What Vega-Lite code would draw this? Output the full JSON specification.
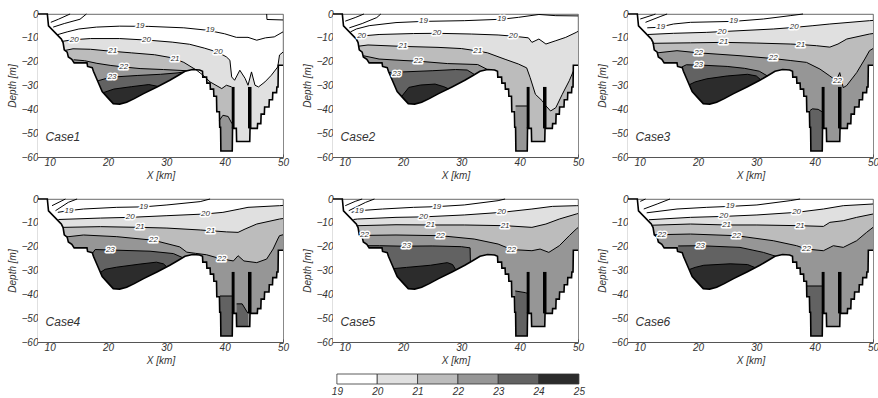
{
"$schema":"https://vega.github.io/schema/vega-lite/v6.json",
"background":"white",
"padding":{"left":6,"top":7,"right":0,"bottom":0},
"config":{"font":"Liberation Sans","view":{"stroke":"#444","strokeWidth":0.8},
"header":{"labels":false,"title":null,"labelPadding":0,"titlePadding":0},
"headerFacet":{"labels":false,"labelPadding":0,"titlePadding":0},
"axis":{"labelFontStyle":"italic","titleFontStyle":"italic","titleFontWeight":"normal","labelFontSize":10,"titleFontSize":10,"labelColor":"#333","titleColor":"#333","domainColor":"#555","tickColor":"#555","tickSize":-3,"labelPadding":3,"grid":false,"labelOverlap":false}},
"datasets":{"d":[
{"c":["Case1","Case2","Case3","Case4","Case5","Case6"],"k":"s","x":8,"y":0},
{"c":["Case1","Case2","Case3","Case4","Case5","Case6"],"k":"s","x":9.6,"y":0},
{"c":["Case1","Case2","Case3","Case4","Case5","Case6"],"k":"s","x":9.8,"y":-5},
{"c":["Case1","Case2","Case3","Case4","Case5","Case6"],"k":"s","x":11.8,"y":-10},
{"c":["Case1","Case2","Case3","Case4","Case5","Case6"],"k":"s","x":12.0,"y":-10.5},
{"c":["Case1","Case2","Case3","Case4","Case5","Case6"],"k":"s","x":12.3,"y":-12},
{"c":["Case1","Case2","Case3","Case4","Case5","Case6"],"k":"s","x":12.5,"y":-15},
{"c":["Case1","Case2","Case3","Case4","Case5","Case6"],"k":"s","x":13.0,"y":-16},
{"c":["Case1","Case2","Case3","Case4","Case5","Case6"],"k":"s","x":13.2,"y":-18},
{"c":["Case1","Case2","Case3","Case4","Case5","Case6"],"k":"s","x":13.8,"y":-19},
{"c":["Case1","Case2","Case3","Case4","Case5","Case6"],"k":"s","x":14.2,"y":-20.5},
{"c":["Case1","Case2","Case3","Case4","Case5","Case6"],"k":"s","x":16.4,"y":-20.5},
{"c":["Case1","Case2","Case3","Case4","Case5","Case6"],"k":"s","x":16.5,"y":-22},
{"c":["Case1","Case2","Case3","Case4","Case5","Case6"],"k":"s","x":17.3,"y":-22.5},
{"c":["Case1","Case2","Case3","Case4","Case5","Case6"],"k":"s","x":17.5,"y":-24},
{"c":["Case1","Case2","Case3","Case4","Case5","Case6"],"k":"s","x":18.2,"y":-28},
{"c":["Case1","Case2","Case3","Case4","Case5","Case6"],"k":"s","x":19.0,"y":-32.5},
{"c":["Case1","Case2","Case3","Case4","Case5","Case6"],"k":"s","x":20.1,"y":-35.5},
{"c":["Case1","Case2","Case3","Case4","Case5","Case6"],"k":"s","x":20.9,"y":-37.6},
{"c":["Case1","Case2","Case3","Case4","Case5","Case6"],"k":"s","x":22.0,"y":-37.8},
{"c":["Case1","Case2","Case3","Case4","Case5","Case6"],"k":"s","x":23.2,"y":-37},
{"c":["Case1","Case2","Case3","Case4","Case5","Case6"],"k":"s","x":24.5,"y":-35.5},
{"c":["Case1","Case2","Case3","Case4","Case5","Case6"],"k":"s","x":26.1,"y":-33.4},
{"c":["Case1","Case2","Case3","Case4","Case5","Case6"],"k":"s","x":28.4,"y":-30.6},
{"c":["Case1","Case2","Case3","Case4","Case5","Case6"],"k":"s","x":30.6,"y":-27.8},
{"c":["Case1","Case2","Case3","Case4","Case5","Case6"],"k":"s","x":32.0,"y":-25.8},
{"c":["Case1","Case2","Case3","Case4","Case5","Case6"],"k":"s","x":33.2,"y":-24},
{"c":["Case1","Case2","Case3","Case4","Case5","Case6"],"k":"s","x":34.5,"y":-23.3},
{"c":["Case1","Case2","Case3","Case4","Case5","Case6"],"k":"s","x":35.7,"y":-23.5},
{"c":["Case1","Case2","Case3","Case4","Case5","Case6"],"k":"s","x":36.2,"y":-24},
{"c":["Case1","Case2","Case3","Case4","Case5","Case6"],"k":"s","x":36.25,"y":-26.5},
{"c":["Case1","Case2","Case3","Case4","Case5","Case6"],"k":"s","x":36.9,"y":-26.5},
{"c":["Case1","Case2","Case3","Case4","Case5","Case6"],"k":"s","x":36.95,"y":-29},
{"c":["Case1","Case2","Case3","Case4","Case5","Case6"],"k":"s","x":37.5,"y":-29},
{"c":["Case1","Case2","Case3","Case4","Case5","Case6"],"k":"s","x":37.55,"y":-31.5},
{"c":["Case1","Case2","Case3","Case4","Case5","Case6"],"k":"s","x":38.1,"y":-31.5},
{"c":["Case1","Case2","Case3","Case4","Case5","Case6"],"k":"s","x":38.15,"y":-34.5},
{"c":["Case1","Case2","Case3","Case4","Case5","Case6"],"k":"s","x":38.6,"y":-34.5},
{"c":["Case1","Case2","Case3","Case4","Case5","Case6"],"k":"s","x":38.65,"y":-41},
{"c":["Case1","Case2","Case3","Case4","Case5","Case6"],"k":"s","x":39.1,"y":-41},
{"c":["Case1","Case2","Case3","Case4","Case5","Case6"],"k":"s","x":39.15,"y":-47.5},
{"c":["Case1","Case2","Case3","Case4","Case5","Case6"],"k":"s","x":39.3,"y":-47.5},
{"c":["Case1","Case2","Case3","Case4","Case5","Case6"],"k":"s","x":39.35,"y":-57.5},
{"c":["Case1","Case2","Case3","Case4","Case5","Case6"],"k":"s","x":41.3,"y":-57.5},
{"c":["Case1","Case2","Case3","Case4","Case5","Case6"],"k":"s","x":41.35,"y":-48},
{"c":["Case1","Case2","Case3","Case4","Case5","Case6"],"k":"s","x":42.0,"y":-48},
{"c":["Case1","Case2","Case3","Case4","Case5","Case6"],"k":"s","x":42.05,"y":-53.5},
{"c":["Case1","Case2","Case3","Case4","Case5","Case6"],"k":"s","x":44.3,"y":-53.5},
{"c":["Case1","Case2","Case3","Case4","Case5","Case6"],"k":"s","x":44.35,"y":-48},
{"c":["Case1","Case2","Case3","Case4","Case5","Case6"],"k":"s","x":45.6,"y":-48},
{"c":["Case1","Case2","Case3","Case4","Case5","Case6"],"k":"s","x":45.65,"y":-46},
{"c":["Case1","Case2","Case3","Case4","Case5","Case6"],"k":"s","x":46.2,"y":-46},
{"c":["Case1","Case2","Case3","Case4","Case5","Case6"],"k":"s","x":46.25,"y":-42},
{"c":["Case1","Case2","Case3","Case4","Case5","Case6"],"k":"s","x":46.8,"y":-42},
{"c":["Case1","Case2","Case3","Case4","Case5","Case6"],"k":"s","x":46.85,"y":-39},
{"c":["Case1","Case2","Case3","Case4","Case5","Case6"],"k":"s","x":47.6,"y":-39},
{"c":["Case1","Case2","Case3","Case4","Case5","Case6"],"k":"s","x":47.65,"y":-36},
{"c":["Case1","Case2","Case3","Case4","Case5","Case6"],"k":"s","x":48.2,"y":-36},
{"c":["Case1","Case2","Case3","Case4","Case5","Case6"],"k":"s","x":48.25,"y":-33},
{"c":["Case1","Case2","Case3","Case4","Case5","Case6"],"k":"s","x":48.9,"y":-33},
{"c":["Case1","Case2","Case3","Case4","Case5","Case6"],"k":"s","x":48.95,"y":-30.6},
{"c":["Case1","Case2","Case3","Case4","Case5","Case6"],"k":"s","x":49.15,"y":-30.6},
{"c":["Case1","Case2","Case3","Case4","Case5","Case6"],"k":"s","x":49.2,"y":-21.5},
{"c":["Case1","Case2","Case3","Case4","Case5","Case6"],"k":"s","x":50,"y":-21.5},
{"c":["Case1","Case2","Case3","Case4","Case5","Case6"],"k":"b","x":41.2,"x2":41.7,"y":-30.6,"y2":-48},
{"c":["Case1","Case2","Case3","Case4","Case5","Case6"],"k":"b","x":44.0,"x2":44.6,"y":-30.6,"y2":-48},

{"c":["Case1"],"k":"i","l":17,"s":"17a","x":10.2,"y":-3.5},{"c":["Case1"],"k":"i","l":17,"s":"17a","x":11.5,"y":-2.2},{"c":["Case1"],"k":"i","l":17,"s":"17a","x":13.5,"y":0},
{"c":["Case1"],"k":"i","l":18,"s":"18a","x":10.6,"y":-5.5},{"c":["Case1"],"k":"i","l":18,"s":"18a","x":12.5,"y":-4},{"c":["Case1"],"k":"i","l":18,"s":"18a","x":15.2,"y":-2.2},{"c":["Case1"],"k":"i","l":18,"s":"18a","x":16.3,"y":0},
{"c":["Case1"],"k":"i","l":19,"s":"19a","x":11.3,"y":-8.7},{"c":["Case1"],"k":"i","l":19,"s":"19a","x":13,"y":-7.5},{"c":["Case1"],"k":"i","l":19,"s":"19a","x":15,"y":-6.3},{"c":["Case1"],"k":"i","l":19,"s":"19a","x":18,"y":-5.5},{"c":["Case1"],"k":"i","l":19,"s":"19a","x":22,"y":-5.1},{"c":["Case1"],"k":"i","l":19,"s":"19a","x":27,"y":-5.2},{"c":["Case1"],"k":"i","l":19,"s":"19a","x":33,"y":-5.8},{"c":["Case1"],"k":"i","l":19,"s":"19a","x":37,"y":-6.8},{"c":["Case1"],"k":"i","l":19,"s":"19a","x":40,"y":-8.3},{"c":["Case1"],"k":"i","l":19,"s":"19a","x":42,"y":-9.8},{"c":["Case1"],"k":"i","l":19,"s":"19a","x":44,"y":-9.8},{"c":["Case1"],"k":"i","l":19,"s":"19a","x":45.5,"y":-11},{"c":["Case1"],"k":"i","l":19,"s":"19a","x":47,"y":-10},{"c":["Case1"],"k":"i","l":19,"s":"19a","x":48.5,"y":-9.6},{"c":["Case1"],"k":"i","l":19,"s":"19a","x":50,"y":-7.5},
{"c":["Case1"],"k":"i","l":19,"s":"19b","x":47.2,"y":0},{"c":["Case1"],"k":"i","l":19,"s":"19b","x":47.25,"y":-2.3},{"c":["Case1"],"k":"i","l":19,"s":"19b","x":50,"y":-2.5},
{"c":["Case1"],"k":"i","l":20,"s":"20a","x":12.1,"y":-11.5},{"c":["Case1"],"k":"i","l":20,"s":"20a","x":14,"y":-10.8},{"c":["Case1"],"k":"i","l":20,"s":"20a","x":17,"y":-10.3},{"c":["Case1"],"k":"i","l":20,"s":"20a","x":22,"y":-10.3},{"c":["Case1"],"k":"i","l":20,"s":"20a","x":27,"y":-11},{"c":["Case1"],"k":"i","l":20,"s":"20a","x":31,"y":-11.8},{"c":["Case1"],"k":"i","l":20,"s":"20a","x":34,"y":-12.7},{"c":["Case1"],"k":"i","l":20,"s":"20a","x":36.5,"y":-14.3},{"c":["Case1"],"k":"i","l":20,"s":"20a","x":38.8,"y":-16},{"c":["Case1"],"k":"i","l":20,"s":"20a","x":40.3,"y":-18},{"c":["Case1"],"k":"i","l":20,"s":"20a","x":40.9,"y":-19.4},{"c":["Case1"],"k":"i","l":20,"s":"20a","x":41.2,"y":-26.4},{"c":["Case1"],"k":"i","l":20,"s":"20a","x":41.7,"y":-27.8},{"c":["Case1"],"k":"i","l":20,"s":"20a","x":42.6,"y":-23.6},{"c":["Case1"],"k":"i","l":20,"s":"20a","x":43.5,"y":-27},{"c":["Case1"],"k":"i","l":20,"s":"20a","x":44,"y":-29.9},{"c":["Case1"],"k":"i","l":20,"s":"20a","x":44.6,"y":-24.3},{"c":["Case1"],"k":"i","l":20,"s":"20a","x":45.2,"y":-29.9},{"c":["Case1"],"k":"i","l":20,"s":"20a","x":45.8,"y":-30.6},{"c":["Case1"],"k":"i","l":20,"s":"20a","x":46.9,"y":-28.5},{"c":["Case1"],"k":"i","l":20,"s":"20a","x":48,"y":-25.7},{"c":["Case1"],"k":"i","l":20,"s":"20a","x":49.1,"y":-22.2},{"c":["Case1"],"k":"i","l":20,"s":"20a","x":49.4,"y":-17.2},{"c":["Case1"],"k":"i","l":20,"s":"20a","x":50,"y":-16},
{"c":["Case1"],"k":"i","l":21,"s":"21a","x":12.6,"y":-15.3},{"c":["Case1"],"k":"i","l":21,"s":"21a","x":14,"y":-14.6},{"c":["Case1"],"k":"i","l":21,"s":"21a","x":17,"y":-14.8},{"c":["Case1"],"k":"i","l":21,"s":"21a","x":20,"y":-15.5},{"c":["Case1"],"k":"i","l":21,"s":"21a","x":24,"y":-16.3},{"c":["Case1"],"k":"i","l":21,"s":"21a","x":28,"y":-17.1},{"c":["Case1"],"k":"i","l":21,"s":"21a","x":31,"y":-18.4},{"c":["Case1"],"k":"i","l":21,"s":"21a","x":33,"y":-20.3},{"c":["Case1"],"k":"i","l":21,"s":"21a","x":35.2,"y":-23.6},{"c":["Case1"],"k":"i","l":21,"s":"21a","x":36.3,"y":-25.7},{"c":["Case1"],"k":"i","l":21,"s":"21a","x":37.5,"y":-28.5},{"c":["Case1"],"k":"i","l":21,"s":"21a","x":39.5,"y":-31.3},{"c":["Case1"],"k":"i","l":21,"s":"21a","x":40.3,"y":-29.9},{"c":["Case1"],"k":"i","l":21,"s":"21a","x":41.2,"y":-30.6},
{"c":["Case1"],"k":"i","l":22,"s":"22a","x":14.1,"y":-19.2},{"c":["Case1"],"k":"i","l":22,"s":"22a","x":16,"y":-19.6},{"c":["Case1"],"k":"i","l":22,"s":"22a","x":18.1,"y":-20.7},{"c":["Case1"],"k":"i","l":22,"s":"22a","x":20.5,"y":-21.6},{"c":["Case1"],"k":"i","l":22,"s":"22a","x":23,"y":-22.3},{"c":["Case1"],"k":"i","l":22,"s":"22a","x":25.5,"y":-22.9},{"c":["Case1"],"k":"i","l":22,"s":"22a","x":29.5,"y":-23.3},{"c":["Case1"],"k":"i","l":22,"s":"22a","x":33.5,"y":-23.8},
{"c":["Case1"],"k":"i","l":22,"s":"22b","x":39.1,"y":-44.6},{"c":["Case1"],"k":"i","l":22,"s":"22b","x":39.7,"y":-42.5},{"c":["Case1"],"k":"i","l":22,"s":"22b","x":40.6,"y":-43},{"c":["Case1"],"k":"i","l":22,"s":"22b","x":41.25,"y":-46},
{"c":["Case1"],"k":"i","l":23,"s":"23a","x":18.3,"y":-28},{"c":["Case1"],"k":"i","l":23,"s":"23a","x":20.5,"y":-26.5},{"c":["Case1"],"k":"i","l":23,"s":"23a","x":25,"y":-25.8},{"c":["Case1"],"k":"i","l":23,"s":"23a","x":29,"y":-25.3},{"c":["Case1"],"k":"i","l":23,"s":"23a","x":32,"y":-24.7},{"c":["Case1"],"k":"i","l":23,"s":"23a","x":33,"y":-24.3},
{"c":["Case1"],"k":"i","l":24,"s":"24a","x":19.2,"y":-33},{"c":["Case1"],"k":"i","l":24,"s":"24a","x":21,"y":-31.5},{"c":["Case1"],"k":"i","l":24,"s":"24a","x":24,"y":-30.5},{"c":["Case1"],"k":"i","l":24,"s":"24a","x":27,"y":-29.6},{"c":["Case1"],"k":"i","l":24,"s":"24a","x":28.6,"y":-30.4},
{"c":["Case1"],"k":"t","t":"19","x":25.5,"y":-5.1},{"c":["Case1"],"k":"t","t":"19","x":37.5,"y":-6.9},{"c":["Case1"],"k":"t","t":"20","x":14.2,"y":-10.7},{"c":["Case1"],"k":"t","t":"20","x":26.6,"y":-10.9},{"c":["Case1"],"k":"t","t":"20","x":38.9,"y":-16.1},{"c":["Case1"],"k":"t","t":"21","x":20.8,"y":-15.6},{"c":["Case1"],"k":"t","t":"21","x":31.5,"y":-18.9},{"c":["Case1"],"k":"t","t":"22","x":22.7,"y":-22.2},{"c":["Case1"],"k":"t","t":"23","x":20.7,"y":-26.6},

{"c":["Case2"],"k":"i","l":17,"s":"17a","x":10.1,"y":-3},{"c":["Case2"],"k":"i","l":17,"s":"17a","x":11.8,"y":-1.5},{"c":["Case2"],"k":"i","l":17,"s":"17a","x":13.3,"y":0},
{"c":["Case2"],"k":"i","l":18,"s":"18a","x":10.8,"y":-5.8},{"c":["Case2"],"k":"i","l":18,"s":"18a","x":13,"y":-4},{"c":["Case2"],"k":"i","l":18,"s":"18a","x":15.5,"y":-1.5},{"c":["Case2"],"k":"i","l":18,"s":"18a","x":16.2,"y":0},
{"c":["Case2"],"k":"i","l":19,"s":"19a","x":11,"y":-7.5},{"c":["Case2"],"k":"i","l":19,"s":"19a","x":12,"y":-6.3},{"c":["Case2"],"k":"i","l":19,"s":"19a","x":14.2,"y":-4.9},{"c":["Case2"],"k":"i","l":19,"s":"19a","x":18.8,"y":-3.6},{"c":["Case2"],"k":"i","l":19,"s":"19a","x":23.5,"y":-3.1},{"c":["Case2"],"k":"i","l":19,"s":"19a","x":30.5,"y":-2.8},{"c":["Case2"],"k":"i","l":19,"s":"19a","x":36.9,"y":-2.2},{"c":["Case2"],"k":"i","l":19,"s":"19a","x":39.8,"y":-1.4},{"c":["Case2"],"k":"i","l":19,"s":"19a","x":43.3,"y":-0.2},{"c":["Case2"],"k":"i","l":19,"s":"19a","x":46.2,"y":-0.7},{"c":["Case2"],"k":"i","l":19,"s":"19a","x":50,"y":-0.8},
{"c":["Case2"],"k":"i","l":20,"s":"20a","x":12.1,"y":-10.8},{"c":["Case2"],"k":"i","l":20,"s":"20a","x":13,"y":-9.2},{"c":["Case2"],"k":"i","l":20,"s":"20a","x":15.9,"y":-8.6},{"c":["Case2"],"k":"i","l":20,"s":"20a","x":21.8,"y":-8.2},{"c":["Case2"],"k":"i","l":20,"s":"20a","x":25.8,"y":-8.1},{"c":["Case2"],"k":"i","l":20,"s":"20a","x":31.7,"y":-8.4},{"c":["Case2"],"k":"i","l":20,"s":"20a","x":36.3,"y":-8.8},{"c":["Case2"],"k":"i","l":20,"s":"20a","x":38.9,"y":-9.3},{"c":["Case2"],"k":"i","l":20,"s":"20a","x":41.5,"y":-10},{"c":["Case2"],"k":"i","l":20,"s":"20a","x":42.1,"y":-11.9},{"c":["Case2"],"k":"i","l":20,"s":"20a","x":43.3,"y":-10.5},{"c":["Case2"],"k":"i","l":20,"s":"20a","x":44.5,"y":-12.6},{"c":["Case2"],"k":"i","l":20,"s":"20a","x":46.2,"y":-11.2},{"c":["Case2"],"k":"i","l":20,"s":"20a","x":47.9,"y":-9.8},{"c":["Case2"],"k":"i","l":20,"s":"20a","x":49.7,"y":-7.7},{"c":["Case2"],"k":"i","l":20,"s":"20a","x":50,"y":-7.3},
{"c":["Case2"],"k":"i","l":21,"s":"21a","x":12.4,"y":-13.5},{"c":["Case2"],"k":"i","l":21,"s":"21a","x":14,"y":-13},{"c":["Case2"],"k":"i","l":21,"s":"21a","x":20,"y":-13.6},{"c":["Case2"],"k":"i","l":21,"s":"21a","x":26,"y":-14},{"c":["Case2"],"k":"i","l":21,"s":"21a","x":30,"y":-14.5},{"c":["Case2"],"k":"i","l":21,"s":"21a","x":32.8,"y":-15.5},{"c":["Case2"],"k":"i","l":21,"s":"21a","x":34.5,"y":-16.3},{"c":["Case2"],"k":"i","l":21,"s":"21a","x":37.5,"y":-19},{"c":["Case2"],"k":"i","l":21,"s":"21a","x":39.8,"y":-21},{"c":["Case2"],"k":"i","l":21,"s":"21a","x":41.2,"y":-22.6},{"c":["Case2"],"k":"i","l":21,"s":"21a","x":41.8,"y":-26.7},{"c":["Case2"],"k":"i","l":21,"s":"21a","x":42.7,"y":-33.7},{"c":["Case2"],"k":"i","l":21,"s":"21a","x":43.9,"y":-36.5},{"c":["Case2"],"k":"i","l":21,"s":"21a","x":44.3,"y":-38},{"c":["Case2"],"k":"i","l":21,"s":"21a","x":45.3,"y":-40.7},{"c":["Case2"],"k":"i","l":21,"s":"21a","x":46.2,"y":-39.3},{"c":["Case2"],"k":"i","l":21,"s":"21a","x":47.3,"y":-33.7},{"c":["Case2"],"k":"i","l":21,"s":"21a","x":48.5,"y":-28},{"c":["Case2"],"k":"i","l":21,"s":"21a","x":49.2,"y":-24},
{"c":["Case2"],"k":"i","l":22,"s":"22a","x":13.2,"y":-17.5},{"c":["Case2"],"k":"i","l":22,"s":"22a","x":15.9,"y":-18.9},{"c":["Case2"],"k":"i","l":22,"s":"22a","x":20,"y":-19.5},{"c":["Case2"],"k":"i","l":22,"s":"22a","x":22.6,"y":-19.8},{"c":["Case2"],"k":"i","l":22,"s":"22a","x":27.6,"y":-20.8},{"c":["Case2"],"k":"i","l":22,"s":"22a","x":32.8,"y":-21.2},{"c":["Case2"],"k":"i","l":22,"s":"22a","x":34.4,"y":-23.2},
{"c":["Case2"],"k":"i","l":22,"s":"22b","x":39.3,"y":-38.6},{"c":["Case2"],"k":"i","l":22,"s":"22b","x":41.25,"y":-38.6},
{"c":["Case2"],"k":"i","l":23,"s":"23a","x":17.6,"y":-24.5},{"c":["Case2"],"k":"i","l":23,"s":"23a","x":20,"y":-24.3},{"c":["Case2"],"k":"i","l":23,"s":"23a","x":25,"y":-23.8},{"c":["Case2"],"k":"i","l":23,"s":"23a","x":29,"y":-23.3},{"c":["Case2"],"k":"i","l":23,"s":"23a","x":31,"y":-23.5},{"c":["Case2"],"k":"i","l":23,"s":"23a","x":32.2,"y":-25.3},
{"c":["Case2"],"k":"i","l":24,"s":"24a","x":19.8,"y":-34.5},{"c":["Case2"],"k":"i","l":24,"s":"24a","x":21,"y":-30.8},{"c":["Case2"],"k":"i","l":24,"s":"24a","x":23,"y":-29.8},{"c":["Case2"],"k":"i","l":24,"s":"24a","x":25.5,"y":-29.4},{"c":["Case2"],"k":"i","l":24,"s":"24a","x":27,"y":-30.5},{"c":["Case2"],"k":"i","l":24,"s":"24a","x":27.8,"y":-31.4},
{"c":["Case2"],"k":"t","t":"19","x":23.5,"y":-3.1},{"c":["Case2"],"k":"t","t":"19","x":36.9,"y":-2.2},{"c":["Case2"],"k":"t","t":"20","x":12.9,"y":-9.1},{"c":["Case2"],"k":"t","t":"20","x":25.8,"y":-8.1},{"c":["Case2"],"k":"t","t":"20","x":38.9,"y":-9.3},{"c":["Case2"],"k":"t","t":"21","x":20,"y":-13.6},{"c":["Case2"],"k":"t","t":"21","x":32.8,"y":-15.4},{"c":["Case2"],"k":"t","t":"22","x":22.6,"y":-19.7},{"c":["Case2"],"k":"t","t":"23","x":18.9,"y":-25.2},

{"c":["Case3"],"k":"i","l":17,"s":"17a","x":10.1,"y":-2.1},{"c":["Case3"],"k":"i","l":17,"s":"17a","x":12.4,"y":-0.3},{"c":["Case3"],"k":"i","l":17,"s":"17a","x":12.7,"y":0},
{"c":["Case3"],"k":"i","l":18,"s":"18a","x":11,"y":-3.5},{"c":["Case3"],"k":"i","l":18,"s":"18a","x":13.5,"y":-1.1},{"c":["Case3"],"k":"i","l":18,"s":"18a","x":14.7,"y":0},
{"c":["Case3"],"k":"i","l":19,"s":"19a","x":11.3,"y":-5.8},{"c":["Case3"],"k":"i","l":19,"s":"19a","x":13.2,"y":-5.6},{"c":["Case3"],"k":"i","l":19,"s":"19a","x":15.8,"y":-4.2},{"c":["Case3"],"k":"i","l":19,"s":"19a","x":18.7,"y":-3.5},{"c":["Case3"],"k":"i","l":19,"s":"19a","x":26.1,"y":-3.1},{"c":["Case3"],"k":"i","l":19,"s":"19a","x":31.2,"y":-2.1},{"c":["Case3"],"k":"i","l":19,"s":"19a","x":35.8,"y":-0.7},{"c":["Case3"],"k":"i","l":19,"s":"19a","x":38,"y":0},
{"c":["Case3"],"k":"i","l":20,"s":"20a","x":11.4,"y":-8.6},{"c":["Case3"],"k":"i","l":20,"s":"20a","x":15.8,"y":-8.1},{"c":["Case3"],"k":"i","l":20,"s":"20a","x":21.5,"y":-7.7},{"c":["Case3"],"k":"i","l":20,"s":"20a","x":27.2,"y":-7},{"c":["Case3"],"k":"i","l":20,"s":"20a","x":32.9,"y":-6.3},{"c":["Case3"],"k":"i","l":20,"s":"20a","x":36.6,"y":-5.6},{"c":["Case3"],"k":"i","l":20,"s":"20a","x":39.7,"y":-4.9},{"c":["Case3"],"k":"i","l":20,"s":"20a","x":42.6,"y":-4.2},{"c":["Case3"],"k":"i","l":20,"s":"20a","x":49.4,"y":-2.8},{"c":["Case3"],"k":"i","l":20,"s":"20a","x":50,"y":-2.7},
{"c":["Case3"],"k":"i","l":21,"s":"21a","x":12.2,"y":-12.3},{"c":["Case3"],"k":"i","l":21,"s":"21a","x":18.7,"y":-12.1},{"c":["Case3"],"k":"i","l":21,"s":"21a","x":24.4,"y":-11.9},{"c":["Case3"],"k":"i","l":21,"s":"21a","x":30.1,"y":-12.2},{"c":["Case3"],"k":"i","l":21,"s":"21a","x":35.8,"y":-12.6},{"c":["Case3"],"k":"i","l":21,"s":"21a","x":37.5,"y":-12.8},{"c":["Case3"],"k":"i","l":21,"s":"21a","x":40.3,"y":-13.3},{"c":["Case3"],"k":"i","l":21,"s":"21a","x":42.6,"y":-13.9},{"c":["Case3"],"k":"i","l":21,"s":"21a","x":44,"y":-12.6},{"c":["Case3"],"k":"i","l":21,"s":"21a","x":45.5,"y":-10.5},{"c":["Case3"],"k":"i","l":21,"s":"21a","x":49.4,"y":-8.4},{"c":["Case3"],"k":"i","l":21,"s":"21a","x":50,"y":-8.2},
{"c":["Case3"],"k":"i","l":22,"s":"22a","x":13,"y":-16.3},{"c":["Case3"],"k":"i","l":22,"s":"22a","x":16.4,"y":-15.4},{"c":["Case3"],"k":"i","l":22,"s":"22a","x":20.1,"y":-16.3},{"c":["Case3"],"k":"i","l":22,"s":"22a","x":27.2,"y":-17.5},{"c":["Case3"],"k":"i","l":22,"s":"22a","x":32.9,"y":-18.7},{"c":["Case3"],"k":"i","l":22,"s":"22a","x":35.8,"y":-19.5},{"c":["Case3"],"k":"i","l":22,"s":"22a","x":38.6,"y":-20.3},{"c":["Case3"],"k":"i","l":22,"s":"22a","x":40.9,"y":-23.1},{"c":["Case3"],"k":"i","l":22,"s":"22a","x":42.6,"y":-26},{"c":["Case3"],"k":"i","l":22,"s":"22a","x":43.7,"y":-28},{"c":["Case3"],"k":"i","l":22,"s":"22a","x":44.3,"y":-24.6},{"c":["Case3"],"k":"i","l":22,"s":"22a","x":44.9,"y":-30.9},{"c":["Case3"],"k":"i","l":22,"s":"22a","x":45.5,"y":-30},{"c":["Case3"],"k":"i","l":22,"s":"22a","x":47.2,"y":-24.6},{"c":["Case3"],"k":"i","l":22,"s":"22a","x":48.6,"y":-18.9},{"c":["Case3"],"k":"i","l":22,"s":"22a","x":49.4,"y":-15.4},{"c":["Case3"],"k":"i","l":22,"s":"22a","x":50,"y":-14.5},
{"c":["Case3"],"k":"i","l":23,"s":"23a","x":17.2,"y":-22.3},{"c":["Case3"],"k":"i","l":23,"s":"23a","x":18,"y":-21.3},{"c":["Case3"],"k":"i","l":23,"s":"23a","x":21,"y":-21.5},{"c":["Case3"],"k":"i","l":23,"s":"23a","x":25,"y":-22},{"c":["Case3"],"k":"i","l":23,"s":"23a","x":28,"y":-22.8},{"c":["Case3"],"k":"i","l":23,"s":"23a","x":30.5,"y":-24},{"c":["Case3"],"k":"i","l":23,"s":"23a","x":31.9,"y":-26},
{"c":["Case3"],"k":"i","l":23,"s":"23b","x":39.2,"y":-40.5},{"c":["Case3"],"k":"i","l":23,"s":"23b","x":39.6,"y":-39.8},{"c":["Case3"],"k":"i","l":23,"s":"23b","x":40.6,"y":-40},{"c":["Case3"],"k":"i","l":23,"s":"23b","x":41.25,"y":-41},
{"c":["Case3"],"k":"i","l":24,"s":"24a","x":18.5,"y":-29.7},{"c":["Case3"],"k":"i","l":24,"s":"24a","x":19.5,"y":-28.5},{"c":["Case3"],"k":"i","l":24,"s":"24a","x":21.5,"y":-27.2},{"c":["Case3"],"k":"i","l":24,"s":"24a","x":25,"y":-26},{"c":["Case3"],"k":"i","l":24,"s":"24a","x":28.5,"y":-25.3},{"c":["Case3"],"k":"i","l":24,"s":"24a","x":30,"y":-26},{"c":["Case3"],"k":"i","l":24,"s":"24a","x":30.7,"y":-27.5},
{"c":["Case3"],"k":"t","t":"19","x":13.6,"y":-5.6},{"c":["Case3"],"k":"t","t":"19","x":26.1,"y":-3.1},{"c":["Case3"],"k":"t","t":"20","x":24.1,"y":-7.5},{"c":["Case3"],"k":"t","t":"20","x":36.5,"y":-5.6},{"c":["Case3"],"k":"t","t":"21","x":24.4,"y":-11.9},{"c":["Case3"],"k":"t","t":"21","x":37.6,"y":-12.8},{"c":["Case3"],"k":"t","t":"22","x":20.1,"y":-16.2},{"c":["Case3"],"k":"t","t":"22","x":32.9,"y":-18.6},{"c":["Case3"],"k":"t","t":"22","x":43.9,"y":-28.3},{"c":["Case3"],"k":"t","t":"23","x":20.1,"y":-21.6},

{"c":["Case4"],"k":"i","l":17,"s":"17a","x":10.4,"y":-2.8},{"c":["Case4"],"k":"i","l":17,"s":"17a","x":12.7,"y":0},
{"c":["Case4"],"k":"i","l":18,"s":"18a","x":11,"y":-4.9},{"c":["Case4"],"k":"i","l":18,"s":"18a","x":13.2,"y":-1.4},{"c":["Case4"],"k":"i","l":18,"s":"18a","x":14.7,"y":0},
{"c":["Case4"],"k":"i","l":19,"s":"19a","x":11.4,"y":-5.6},{"c":["Case4"],"k":"i","l":19,"s":"19a","x":13.2,"y":-4.9},{"c":["Case4"],"k":"i","l":19,"s":"19a","x":15.8,"y":-4.2},{"c":["Case4"],"k":"i","l":19,"s":"19a","x":21.5,"y":-3.5},{"c":["Case4"],"k":"i","l":19,"s":"19a","x":26.1,"y":-3.3},{"c":["Case4"],"k":"i","l":19,"s":"19a","x":30.1,"y":-2.5},{"c":["Case4"],"k":"i","l":19,"s":"19a","x":35.8,"y":-1.1},{"c":["Case4"],"k":"i","l":19,"s":"19a","x":37.5,"y":0},
{"c":["Case4"],"k":"i","l":20,"s":"20a","x":11.5,"y":-8.6},{"c":["Case4"],"k":"i","l":20,"s":"20a","x":18.7,"y":-8},{"c":["Case4"],"k":"i","l":20,"s":"20a","x":23.8,"y":-7.7},{"c":["Case4"],"k":"i","l":20,"s":"20a","x":30.1,"y":-7},{"c":["Case4"],"k":"i","l":20,"s":"20a","x":36.6,"y":-6.3},{"c":["Case4"],"k":"i","l":20,"s":"20a","x":39.7,"y":-5.6},{"c":["Case4"],"k":"i","l":20,"s":"20a","x":42.6,"y":-4.2},{"c":["Case4"],"k":"i","l":20,"s":"20a","x":44,"y":-3.5},{"c":["Case4"],"k":"i","l":20,"s":"20a","x":49.4,"y":-2.8},{"c":["Case4"],"k":"i","l":20,"s":"20a","x":50,"y":-2.7},
{"c":["Case4"],"k":"i","l":21,"s":"21a","x":12.3,"y":-11.9},{"c":["Case4"],"k":"i","l":21,"s":"21a","x":18.7,"y":-11.6},{"c":["Case4"],"k":"i","l":21,"s":"21a","x":25.5,"y":-11.9},{"c":["Case4"],"k":"i","l":21,"s":"21a","x":30.1,"y":-12.2},{"c":["Case4"],"k":"i","l":21,"s":"21a","x":35.8,"y":-13},{"c":["Case4"],"k":"i","l":21,"s":"21a","x":37.5,"y":-13.3},{"c":["Case4"],"k":"i","l":21,"s":"21a","x":40.3,"y":-13.8},{"c":["Case4"],"k":"i","l":21,"s":"21a","x":42.3,"y":-14},{"c":["Case4"],"k":"i","l":21,"s":"21a","x":43.5,"y":-12.6},{"c":["Case4"],"k":"i","l":21,"s":"21a","x":45.5,"y":-10.5},{"c":["Case4"],"k":"i","l":21,"s":"21a","x":49.4,"y":-8.4},{"c":["Case4"],"k":"i","l":21,"s":"21a","x":50,"y":-8.2},
{"c":["Case4"],"k":"i","l":22,"s":"22a","x":12.9,"y":-15.9},{"c":["Case4"],"k":"i","l":22,"s":"22a","x":15.8,"y":-15.1},{"c":["Case4"],"k":"i","l":22,"s":"22a","x":21.5,"y":-15.8},{"c":["Case4"],"k":"i","l":22,"s":"22a","x":27.8,"y":-17.3},{"c":["Case4"],"k":"i","l":22,"s":"22a","x":32.3,"y":-20.1},{"c":["Case4"],"k":"i","l":22,"s":"22a","x":33.5,"y":-22.3},{"c":["Case4"],"k":"i","l":22,"s":"22a","x":35,"y":-22.8},{"c":["Case4"],"k":"i","l":22,"s":"22a","x":36.9,"y":-23.4},{"c":["Case4"],"k":"i","l":22,"s":"22a","x":39.2,"y":-25},{"c":["Case4"],"k":"i","l":22,"s":"22a","x":41.5,"y":-26},{"c":["Case4"],"k":"i","l":22,"s":"22a","x":42.3,"y":-23.8},{"c":["Case4"],"k":"i","l":22,"s":"22a","x":43.3,"y":-26},{"c":["Case4"],"k":"i","l":22,"s":"22a","x":45.5,"y":-26.7},{"c":["Case4"],"k":"i","l":22,"s":"22a","x":47.2,"y":-25.2},{"c":["Case4"],"k":"i","l":22,"s":"22a","x":48.3,"y":-21},{"c":["Case4"],"k":"i","l":22,"s":"22a","x":49.1,"y":-16.8},{"c":["Case4"],"k":"i","l":22,"s":"22a","x":49.4,"y":-15.4},{"c":["Case4"],"k":"i","l":22,"s":"22a","x":50,"y":-15},
{"c":["Case4"],"k":"i","l":23,"s":"23a","x":17.4,"y":-22.6},{"c":["Case4"],"k":"i","l":23,"s":"23a","x":17.8,"y":-21.2},{"c":["Case4"],"k":"i","l":23,"s":"23a","x":20.4,"y":-21.4},{"c":["Case4"],"k":"i","l":23,"s":"23a","x":27.2,"y":-21.9},{"c":["Case4"],"k":"i","l":23,"s":"23a","x":31.2,"y":-22.9},{"c":["Case4"],"k":"i","l":23,"s":"23a","x":32.8,"y":-24.6},
{"c":["Case4"],"k":"i","l":23,"s":"23b","x":39.2,"y":-40.7},{"c":["Case4"],"k":"i","l":23,"s":"23b","x":41.25,"y":-40.7},
{"c":["Case4"],"k":"i","l":23,"s":"23c","x":42.05,"y":-44},{"c":["Case4"],"k":"i","l":23,"s":"23c","x":43,"y":-44},{"c":["Case4"],"k":"i","l":23,"s":"23c","x":44,"y":-48},
{"c":["Case4"],"k":"i","l":24,"s":"24a","x":18.7,"y":-30.8},{"c":["Case4"],"k":"i","l":24,"s":"24a","x":19.5,"y":-29.5},{"c":["Case4"],"k":"i","l":24,"s":"24a","x":21.5,"y":-28.6},{"c":["Case4"],"k":"i","l":24,"s":"24a","x":25.5,"y":-27.3},{"c":["Case4"],"k":"i","l":24,"s":"24a","x":28.3,"y":-26.5},{"c":["Case4"],"k":"i","l":24,"s":"24a","x":29.5,"y":-27.2},{"c":["Case4"],"k":"i","l":24,"s":"24a","x":30,"y":-28.3},
{"c":["Case4"],"k":"t","t":"19","x":13.3,"y":-4.9},{"c":["Case4"],"k":"t","t":"19","x":26.1,"y":-3.3},{"c":["Case4"],"k":"t","t":"20","x":23.8,"y":-7.7},{"c":["Case4"],"k":"t","t":"20","x":36.7,"y":-6.2},{"c":["Case4"],"k":"t","t":"21","x":25.5,"y":-11.9},{"c":["Case4"],"k":"t","t":"21","x":37.6,"y":-13.3},{"c":["Case4"],"k":"t","t":"22","x":27.8,"y":-17.3},{"c":["Case4"],"k":"t","t":"22","x":39.5,"y":-25.2},{"c":["Case4"],"k":"t","t":"23","x":20.4,"y":-21.5},

{"c":["Case5"],"k":"i","l":17,"s":"17a","x":10.1,"y":-2.8},{"c":["Case5"],"k":"i","l":17,"s":"17a","x":11.8,"y":-1},{"c":["Case5"],"k":"i","l":17,"s":"17a","x":13,"y":0},
{"c":["Case5"],"k":"i","l":18,"s":"18a","x":10.7,"y":-4.9},{"c":["Case5"],"k":"i","l":18,"s":"18a","x":13.6,"y":-1.4},{"c":["Case5"],"k":"i","l":18,"s":"18a","x":15.1,"y":0},
{"c":["Case5"],"k":"i","l":19,"s":"19a","x":11.2,"y":-5.6},{"c":["Case5"],"k":"i","l":19,"s":"19a","x":12.4,"y":-4.9},{"c":["Case5"],"k":"i","l":19,"s":"19a","x":16.5,"y":-4.2},{"c":["Case5"],"k":"i","l":19,"s":"19a","x":21.8,"y":-3.5},{"c":["Case5"],"k":"i","l":19,"s":"19a","x":25.8,"y":-3.2},{"c":["Case5"],"k":"i","l":19,"s":"19a","x":30.5,"y":-2.5},{"c":["Case5"],"k":"i","l":19,"s":"19a","x":36.3,"y":-0.7},{"c":["Case5"],"k":"i","l":19,"s":"19a","x":37.5,"y":0},
{"c":["Case5"],"k":"i","l":20,"s":"20a","x":11.5,"y":-8.6},{"c":["Case5"],"k":"i","l":20,"s":"20a","x":12.2,"y":-8.4},{"c":["Case5"],"k":"i","l":20,"s":"20a","x":18.8,"y":-7.7},{"c":["Case5"],"k":"i","l":20,"s":"20a","x":23.5,"y":-7.5},{"c":["Case5"],"k":"i","l":20,"s":"20a","x":30.5,"y":-6.7},{"c":["Case5"],"k":"i","l":20,"s":"20a","x":36.9,"y":-5.6},{"c":["Case5"],"k":"i","l":20,"s":"20a","x":42.1,"y":-4.2},{"c":["Case5"],"k":"i","l":20,"s":"20a","x":45.6,"y":-3.1},{"c":["Case5"],"k":"i","l":20,"s":"20a","x":49.7,"y":-2.8},{"c":["Case5"],"k":"i","l":20,"s":"20a","x":50,"y":-2.8},
{"c":["Case5"],"k":"i","l":21,"s":"21a","x":12.2,"y":-11.2},{"c":["Case5"],"k":"i","l":21,"s":"21a","x":18.8,"y":-10.8},{"c":["Case5"],"k":"i","l":21,"s":"21a","x":24.7,"y":-10.9},{"c":["Case5"],"k":"i","l":21,"s":"21a","x":30.5,"y":-10.9},{"c":["Case5"],"k":"i","l":21,"s":"21a","x":37.5,"y":-11.2},{"c":["Case5"],"k":"i","l":21,"s":"21a","x":42.1,"y":-11.9},{"c":["Case5"],"k":"i","l":21,"s":"21a","x":44.5,"y":-10.5},{"c":["Case5"],"k":"i","l":21,"s":"21a","x":46.8,"y":-8.4},{"c":["Case5"],"k":"i","l":21,"s":"21a","x":49.7,"y":-6.3},{"c":["Case5"],"k":"i","l":21,"s":"21a","x":50,"y":-6.1},
{"c":["Case5"],"k":"i","l":22,"s":"22a","x":12.5,"y":-15.3},{"c":["Case5"],"k":"i","l":22,"s":"22a","x":18.8,"y":-15.1},{"c":["Case5"],"k":"i","l":22,"s":"22a","x":26.4,"y":-15.4},{"c":["Case5"],"k":"i","l":22,"s":"22a","x":32.2,"y":-16.8},{"c":["Case5"],"k":"i","l":22,"s":"22a","x":36.3,"y":-18.9},{"c":["Case5"],"k":"i","l":22,"s":"22a","x":38.6,"y":-21.2},{"c":["Case5"],"k":"i","l":22,"s":"22a","x":42.1,"y":-21.7},{"c":["Case5"],"k":"i","l":22,"s":"22a","x":43.5,"y":-21},{"c":["Case5"],"k":"i","l":22,"s":"22a","x":45,"y":-22.4},{"c":["Case5"],"k":"i","l":22,"s":"22a","x":46.8,"y":-19.6},{"c":["Case5"],"k":"i","l":22,"s":"22a","x":48.5,"y":-15.4},{"c":["Case5"],"k":"i","l":22,"s":"22a","x":49.7,"y":-12.6},{"c":["Case5"],"k":"i","l":22,"s":"22a","x":50,"y":-12},
{"c":["Case5"],"k":"i","l":23,"s":"23a","x":13.9,"y":-19.6},{"c":["Case5"],"k":"i","l":23,"s":"23a","x":16,"y":-19.6},{"c":["Case5"],"k":"i","l":23,"s":"23a","x":20,"y":-19.8},{"c":["Case5"],"k":"i","l":23,"s":"23a","x":25,"y":-19.7},{"c":["Case5"],"k":"i","l":23,"s":"23a","x":30,"y":-20},{"c":["Case5"],"k":"i","l":23,"s":"23a","x":31.5,"y":-20.5},{"c":["Case5"],"k":"i","l":23,"s":"23a","x":31.55,"y":-26.3},
{"c":["Case5"],"k":"i","l":23,"s":"23b","x":39.25,"y":-38.6},{"c":["Case5"],"k":"i","l":23,"s":"23b","x":41,"y":-39.3},{"c":["Case5"],"k":"i","l":23,"s":"23b","x":41.25,"y":-39.5},
{"c":["Case5"],"k":"i","l":24,"s":"24a","x":18.4,"y":-29.2},{"c":["Case5"],"k":"i","l":24,"s":"24a","x":20.6,"y":-28.7},{"c":["Case5"],"k":"i","l":24,"s":"24a","x":24.7,"y":-27.8},{"c":["Case5"],"k":"i","l":24,"s":"24a","x":27.6,"y":-26.7},{"c":["Case5"],"k":"i","l":24,"s":"24a","x":28.5,"y":-27.5},{"c":["Case5"],"k":"i","l":24,"s":"24a","x":29,"y":-29.5},
{"c":["Case5"],"k":"t","t":"19","x":12.5,"y":-4.9},{"c":["Case5"],"k":"t","t":"19","x":25.8,"y":-3.2},{"c":["Case5"],"k":"t","t":"20","x":23.5,"y":-7.5},{"c":["Case5"],"k":"t","t":"20","x":36.9,"y":-5.6},{"c":["Case5"],"k":"t","t":"21","x":24.7,"y":-10.9},{"c":["Case5"],"k":"t","t":"21","x":37.5,"y":-11.2},{"c":["Case5"],"k":"t","t":"22","x":13.4,"y":-15.3},{"c":["Case5"],"k":"t","t":"22","x":26.4,"y":-15.4},{"c":["Case5"],"k":"t","t":"22","x":38.6,"y":-21.3},{"c":["Case5"],"k":"t","t":"23","x":20.6,"y":-19.8},

{"c":["Case6"],"k":"i","l":17,"s":"17a","x":10.1,"y":-1},{"c":["Case6"],"k":"i","l":17,"s":"17a","x":11,"y":0},
{"c":["Case6"],"k":"i","l":18,"s":"18a","x":10.7,"y":-4.2},{"c":["Case6"],"k":"i","l":18,"s":"18a","x":13,"y":-2.1},{"c":["Case6"],"k":"i","l":18,"s":"18a","x":15.2,"y":0},
{"c":["Case6"],"k":"i","l":19,"s":"19a","x":11.2,"y":-5.8},{"c":["Case6"],"k":"i","l":19,"s":"19a","x":16.4,"y":-4.2},{"c":["Case6"],"k":"i","l":19,"s":"19a","x":21.5,"y":-3.5},{"c":["Case6"],"k":"i","l":19,"s":"19a","x":25.5,"y":-3.1},{"c":["Case6"],"k":"i","l":19,"s":"19a","x":30.1,"y":-2.5},{"c":["Case6"],"k":"i","l":19,"s":"19a","x":35.8,"y":-0.7},{"c":["Case6"],"k":"i","l":19,"s":"19a","x":37.5,"y":0},
{"c":["Case6"],"k":"i","l":20,"s":"20a","x":11.6,"y":-8.7},{"c":["Case6"],"k":"i","l":20,"s":"20a","x":18.7,"y":-7.7},{"c":["Case6"],"k":"i","l":20,"s":"20a","x":24.4,"y":-7.3},{"c":["Case6"],"k":"i","l":20,"s":"20a","x":30.1,"y":-6.7},{"c":["Case6"],"k":"i","l":20,"s":"20a","x":36.9,"y":-5.6},{"c":["Case6"],"k":"i","l":20,"s":"20a","x":41.5,"y":-4.2},{"c":["Case6"],"k":"i","l":20,"s":"20a","x":44.9,"y":-2.8},{"c":["Case6"],"k":"i","l":20,"s":"20a","x":50,"y":-2.1},
{"c":["Case6"],"k":"i","l":21,"s":"21a","x":12.2,"y":-11},{"c":["Case6"],"k":"i","l":21,"s":"21a","x":18.7,"y":-10.5},{"c":["Case6"],"k":"i","l":21,"s":"21a","x":24.9,"y":-10.9},{"c":["Case6"],"k":"i","l":21,"s":"21a","x":30.1,"y":-10.9},{"c":["Case6"],"k":"i","l":21,"s":"21a","x":37.5,"y":-11.2},{"c":["Case6"],"k":"i","l":21,"s":"21a","x":41.5,"y":-11.5},{"c":["Case6"],"k":"i","l":21,"s":"21a","x":42.6,"y":-9.8},{"c":["Case6"],"k":"i","l":21,"s":"21a","x":44.9,"y":-9.1},{"c":["Case6"],"k":"i","l":21,"s":"21a","x":47.2,"y":-7.7},{"c":["Case6"],"k":"i","l":21,"s":"21a","x":50,"y":-6.3},
{"c":["Case6"],"k":"i","l":22,"s":"22a","x":12.6,"y":-15},{"c":["Case6"],"k":"i","l":22,"s":"22a","x":18.7,"y":-14.7},{"c":["Case6"],"k":"i","l":22,"s":"22a","x":26.6,"y":-15.4},{"c":["Case6"],"k":"i","l":22,"s":"22a","x":32.9,"y":-17.5},{"c":["Case6"],"k":"i","l":22,"s":"22a","x":36.9,"y":-19.6},{"c":["Case6"],"k":"i","l":22,"s":"22a","x":38.6,"y":-21},{"c":["Case6"],"k":"i","l":22,"s":"22a","x":41.5,"y":-21.7},{"c":["Case6"],"k":"i","l":22,"s":"22a","x":43.2,"y":-19.6},{"c":["Case6"],"k":"i","l":22,"s":"22a","x":44.9,"y":-20.3},{"c":["Case6"],"k":"i","l":22,"s":"22a","x":47.2,"y":-17.5},{"c":["Case6"],"k":"i","l":22,"s":"22a","x":48.9,"y":-14},{"c":["Case6"],"k":"i","l":22,"s":"22a","x":50,"y":-11.9},
{"c":["Case6"],"k":"i","l":23,"s":"23a","x":16.6,"y":-19.7},{"c":["Case6"],"k":"i","l":23,"s":"23a","x":20.4,"y":-19.6},{"c":["Case6"],"k":"i","l":23,"s":"23a","x":27.2,"y":-20.3},{"c":["Case6"],"k":"i","l":23,"s":"23a","x":31.2,"y":-22.4},{"c":["Case6"],"k":"i","l":23,"s":"23a","x":33.3,"y":-24},
{"c":["Case6"],"k":"i","l":23,"s":"23b","x":38.65,"y":-36.5},{"c":["Case6"],"k":"i","l":23,"s":"23b","x":41.25,"y":-36.5},
{"c":["Case6"],"k":"i","l":24,"s":"24a","x":18.5,"y":-29.6},{"c":["Case6"],"k":"i","l":24,"s":"24a","x":19.5,"y":-28.7},{"c":["Case6"],"k":"i","l":24,"s":"24a","x":21,"y":-27.8},{"c":["Case6"],"k":"i","l":24,"s":"24a","x":25.5,"y":-27.2},{"c":["Case6"],"k":"i","l":24,"s":"24a","x":28.5,"y":-27.5},{"c":["Case6"],"k":"i","l":24,"s":"24a","x":29.8,"y":-28.8},
{"c":["Case6"],"k":"t","t":"19","x":25.5,"y":-3.1},{"c":["Case6"],"k":"t","t":"20","x":24.4,"y":-7.3},{"c":["Case6"],"k":"t","t":"20","x":36.9,"y":-5.6},{"c":["Case6"],"k":"t","t":"21","x":24.9,"y":-10.9},{"c":["Case6"],"k":"t","t":"21","x":37.5,"y":-11.2},{"c":["Case6"],"k":"t","t":"22","x":13.8,"y":-15.1},{"c":["Case6"],"k":"t","t":"22","x":26.6,"y":-15.4},{"c":["Case6"],"k":"t","t":"22","x":38.6,"y":-21.1},{"c":["Case6"],"k":"t","t":"23","x":20.4,"y":-19.8}
]},
"spacing":7,
"bounds":"full",
"vconcat":[
{
"data":{"name":"d"},
"transform":[{"flatten":["c"],"as":["case"]}],
"facet":{"field":"case","type":"nominal","title":null,"header":{"labels":false,"labelExpr":"''","labelFontSize":1,"labelPadding":0,"title":null}},
"columns":3,
"spacing":{"row":42,"column":50},
"bounds":"flush",
"resolve":{"axis":{"x":"independent","y":"independent"}},
"spec":{
"width":245,"height":143,
"layer":[
{"transform":[{"filter":"datum.k=='i' && datum.l==20"}],"mark":{"type":"area","color":"#e0e0e0"},
 "encoding":{"x":{"field":"x","type":"quantitative","scale":{"domain":[8,50],"nice":false,"zero":false},"axis":{"values":[10,20,30,40,50],"tickCount":10,"title":"X [km]","labelFlush":false,"labelOverlap":false,"titlePadding":3}},
 "y":{"field":"y","type":"quantitative","scale":{"domain":[-60,0],"nice":false,"zero":false},"axis":{"values":[-60,-50,-40,-30,-20,-10,0],"tickCount":10,"title":"Depth [m]","labelOverlap":false,"titlePadding":4}},
 "y2":{"datum":-60},"detail":{"field":"s"}}},
{"transform":[{"filter":"datum.k=='i' && datum.l==21"}],"mark":{"type":"area","color":"#bcbcbc"},
 "encoding":{"x":{"field":"x","type":"quantitative"},"y":{"field":"y","type":"quantitative"},"y2":{"datum":-60},"detail":{"field":"s"}}},
{"transform":[{"filter":"datum.k=='i' && datum.l==22"}],"mark":{"type":"area","color":"#969696"},
 "encoding":{"x":{"field":"x","type":"quantitative"},"y":{"field":"y","type":"quantitative"},"y2":{"datum":-60},"detail":{"field":"s"}}},
{"transform":[{"filter":"datum.k=='i' && datum.l==23"}],"mark":{"type":"area","color":"#626262"},
 "encoding":{"x":{"field":"x","type":"quantitative"},"y":{"field":"y","type":"quantitative"},"y2":{"datum":-60},"detail":{"field":"s"}}},
{"transform":[{"filter":"datum.k=='i' && datum.l==24"}],"mark":{"type":"area","color":"#2c2c2c"},
 "encoding":{"x":{"field":"x","type":"quantitative"},"y":{"field":"y","type":"quantitative"},"y2":{"datum":-60},"detail":{"field":"s"}}},
{"transform":[{"filter":"datum.k=='s'"}],"mark":{"type":"area","color":"white"},
 "encoding":{"x":{"field":"x","type":"quantitative"},"y":{"field":"y","type":"quantitative"},"y2":{"datum":-60}}},
{"transform":[{"filter":"datum.k=='b'"}],"mark":{"type":"rect","color":"black"},
 "encoding":{"x":{"field":"x","type":"quantitative"},"x2":{"field":"x2"},"y":{"field":"y","type":"quantitative"},"y2":{"field":"y2"}}},
{"transform":[{"filter":"datum.k=='i'"}],"mark":{"type":"line","color":"black","strokeWidth":1},
 "encoding":{"x":{"field":"x","type":"quantitative"},"y":{"field":"y","type":"quantitative"},"detail":{"field":"s"}}},
{"transform":[{"filter":"datum.k=='s'"}],"mark":{"type":"line","color":"black","strokeWidth":1.6},
 "encoding":{"x":{"field":"x","type":"quantitative"},"y":{"field":"y","type":"quantitative"}}},
{"transform":[{"filter":"datum.k=='t'"}],"mark":{"type":"text","fontSize":8,"fontStyle":"italic","stroke":"white","strokeWidth":3,"strokeJoin":"round","fill":"white"},
 "encoding":{"x":{"field":"x","type":"quantitative"},"y":{"field":"y","type":"quantitative"},"text":{"field":"t"}}},
{"transform":[{"filter":"datum.k=='t'"}],"mark":{"type":"text","fontSize":8,"fontStyle":"italic","fill":"#333"},
 "encoding":{"x":{"field":"x","type":"quantitative"},"y":{"field":"y","type":"quantitative"},"text":{"field":"t"}}},
{"transform":[{"filter":"datum.k=='s' && datum.x==8"}],"mark":{"type":"text","align":"left","fontSize":12,"fontStyle":"italic","fill":"#333"},
 "encoding":{"x":{"datum":9.3},"y":{"datum":-51.7},"text":{"field":"case"}}}
]}
},
{
"width":835,"height":10,
"view":{"stroke":null},
"data":{"values":[{"lo":19,"hi":20},{"lo":20,"hi":21},{"lo":21,"hi":22},{"lo":22,"hi":23},{"lo":23,"hi":24},{"lo":24,"hi":25}]},
"mark":{"type":"rect","stroke":"#333","strokeWidth":0.8},
"encoding":{
"x":{"field":"lo","type":"quantitative","scale":{"domain":[11.59,32.29],"nice":false,"zero":false},"axis":{"values":[19,20,21,22,23,24,25],"tickCount":10,"title":null,"domain":false,"ticks":false,"labelPadding":2,"labelFlush":false}},
"x2":{"field":"hi"},
"color":{"field":"lo","type":"ordinal","scale":{"domain":[19,20,21,22,23,24],"range":["#ffffff","#e0e0e0","#bcbcbc","#969696","#626262","#2c2c2c"]},"legend":null}
}
}
]
}
